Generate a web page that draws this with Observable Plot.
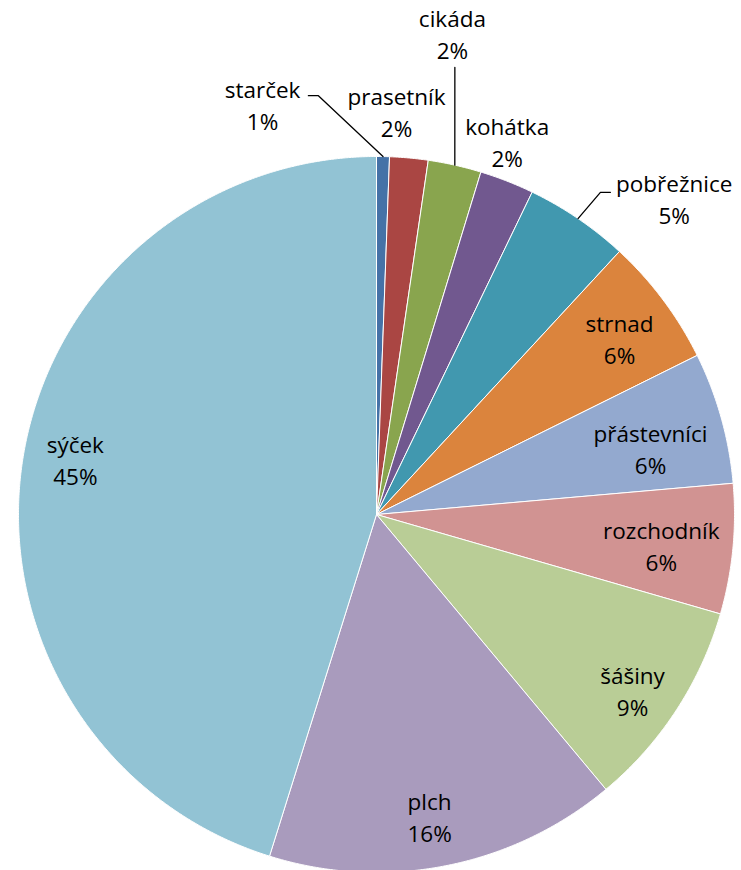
<!DOCTYPE html>
<html><head><meta charset="utf-8">
<script src="https://cdn.jsdelivr.net/npm/d3@7"></script>
<script src="https://cdn.jsdelivr.net/npm/@observablehq/plot@0.6"></script>
<style>body{margin:0;background:#fff}#chart svg{display:block}</style>
</head><body><div id="chart"></div>
<script>
// ---- data ----
const categories = ["starček","prasetník","cikáda","kohátka","pobřežnice","strnad","přástevníci","rozchodník","šášiny","plch","sýček"];
const shares = [0.58,1.73,2.40,2.45,4.71,5.80,5.94,5.87,9.45,15.90,45.17];
const colors = ["#4572A7","#AA4643","#89A54E","#71588F","#4198AF","#DB843D","#93A9CF","#D19392","#B9CD96","#A99BBD","#92C3D4"];

// ---- layout (pixels / polar placement of labels) ----
const W = 741, H = 870, CX = 376, CY = 514, R = 358;
const labelPolar = { // [angle deg clockwise from top, radius factor]
  "starček":[-15.6,1.183], "prasetník":[2.86,1.121], "cikáda":[9.0,1.355], "kohátka":[19.4,1.099],
  "pobřežnice":[43.5,1.208], "strnad":[54.5,0.834], "přástevníci":[76.85,0.786], "rozchodník":[96.6,0.801],
  "šášiny":[124.9,0.872], "plch":[170.1,0.863], "sýček":[-80.1,0.854]
};
const leaderPolar = { // elbow [angle, r] and horizontal tail in px
  "starček":{elbow:[-7.9,1.181], tail:-10},
  "cikáda":{elbow:[9.94,1.268], tail:0},
  "pobřežnice":{elbow:[34.8,1.096], tail:10}
};

const rad = d => d * Math.PI / 180;
const polar = (a, r) => ({x: r * Math.sin(a), y: r * Math.cos(a)});

const arcs = d3.pie().sort(null).value(d => d)(shares);

const wedges = [];
arcs.forEach((a, i) => {
  const name = categories[i];
  const n = Math.max(2, Math.ceil((a.endAngle - a.startAngle) / rad(0.25)));
  wedges.push({name, x: 0, y: 0});
  for (let k = 0; k <= n; k++) {
    const t = a.startAngle + (a.endAngle - a.startAngle) * k / n;
    wedges.push({name, ...polar(t, 1)});
  }
  wedges.push({name, x: 0, y: 0});
});

const labels = categories.map((name, i) => {
  const [ang, r] = labelPolar[name];
  return {name, text: name + "\n" + Math.round(shares[i] / d3.sum(shares) * 100) + "%", ...polar(rad(ang), r)};
});

const leaders = [];
categories.forEach((name, i) => {
  const L = leaderPolar[name];
  if (!L) return;
  const mid = (arcs[i].startAngle + arcs[i].endAngle) / 2;
  leaders.push({name, ...polar(mid, 1)});
  const e = polar(rad(L.elbow[0]), L.elbow[1]);
  leaders.push({name, ...e});
  if (L.tail) leaders.push({name, x: e.x + L.tail / R, y: e.y});
});

const chart = Plot.plot({
  width: W, height: H, margin: 0,
  x: {domain: [-CX / R, (W - CX) / R], axis: null},
  y: {domain: [(CY - H) / R, CY / R], axis: null},
  color: {domain: categories, range: colors},
  style: {background: "#fff", fontFamily: "'Open Sans', sans-serif"},
  marks: [
    Plot.line(wedges, {x: "x", y: "y", z: "name", fill: "name", stroke: "#fff", strokeWidth: 1, strokeLinejoin: "round", curve: "linear"}),
    Plot.line(leaders, {x: "x", y: "y", z: "name", stroke: "#000", strokeWidth: 1.3, curve: "linear"}),
    Plot.text(labels, {x: "x", y: "y", dy: -3, text: "text", fontSize: 22.5, lineHeight: 1.42, fill: "#000", textAnchor: "middle"})
  ]
});
document.getElementById("chart").appendChild(chart);
</script>
</body></html>
